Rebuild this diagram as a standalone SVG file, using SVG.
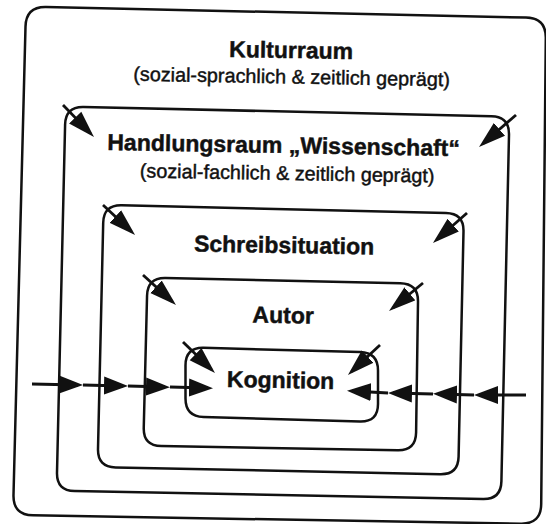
<svg xmlns="http://www.w3.org/2000/svg" width="546" height="524" viewBox="0 0 546 524">
<style>
.box{fill:none;stroke:#111;stroke-width:2.5;stroke-linejoin:round}
.arr{fill:none;stroke:#111;stroke-width:2.8}
.t{font-family:"Liberation Sans",Arial,Helvetica,sans-serif;fill:#111;stroke:#111;stroke-width:0.45;text-anchor:middle}
.h{font-weight:bold;font-size:23px}
.s{font-size:19.8px}
</style>
<defs>
<marker id="ad" markerUnits="userSpaceOnUse" markerWidth="27" markerHeight="18" viewBox="0 0 27 18" refX="22" refY="9" orient="auto">
<path d="M0,0.5 L27,9 L0,17.5 Z" fill="#111"/>
</marker>
<marker id="ah" markerUnits="userSpaceOnUse" markerWidth="24" markerHeight="19" viewBox="0 0 24 19" refX="19" refY="9.5" orient="auto">
<path d="M0,0.5 L24,9.5 L0,18.5 Z" fill="#111"/>
</marker>
</defs>
<rect width="546" height="524" fill="#fff"/>

<g id="kulturraum">
<path class="box" d="M46,7.04 L526,17.56 Q546,18 545.8,38 L541.2,504 Q541,524 521,523.66 L33,515.34 Q13,515 13.5,495 L25.5,26.6 Q26,6.6 46,7.04 Z"/>
<text class="t h" x="291" y="58" transform="rotate(1 291 58)">Kulturraum</text>
<text class="t s" x="291.5" y="83.5" transform="rotate(1 291.5 83.5)">(sozial-sprachlich &amp; zeitlich geprägt)</text>
</g>

<g id="handlungsraum">
<path class="box" d="M83.5,106.9 L491.4,116.3 Q509.4,116.7 509,134.7 L501.4,481.4 Q501,499.4 483,499.05 L74.6,491.05 Q56.6,490.7 57,472.7 L65.1,124.5 Q65.5,106.5 83.5,106.9 Z"/>
<text class="t h" x="283.5" y="153" transform="rotate(1 283.5 153)">Handlungsraum „Wissenschaft“</text>
<text class="t s" x="287" y="180" transform="rotate(1 287 180)">(sozial-fachlich &amp; zeitlich geprägt)</text>
</g>

<g id="schreibsituation">
<path class="box" d="M121.6,205.23 L445.9,212.97 Q463.9,213.4 463.5,231.4 L458.6,456.6 Q458.2,474.6 440.2,474.2 L115.6,467.4 Q97.6,467 98,449 L103.2,222.8 Q103.6,204.8 121.6,205.23 Z"/>
<text class="t h" x="284" y="253" transform="rotate(1 284 253)">Schreibsituation</text>
</g>

<g id="autor">
<path class="box" d="M165.5,278.1 L400.3,283.3 Q418.3,283.7 418,301.7 L416.1,432.5 Q415.8,450.5 397.8,450.2 L161.3,446.1 Q143.3,445.8 143.75,427.8 L147.05,295.7 Q147.5,277.7 165.5,278.1 Z"/>
<text class="t h" x="283" y="323" transform="rotate(1 283 323)">Autor</text>
</g>

<g id="kognition">
<path class="box" d="M203.5,347.87 L360,351.93 Q378,352.4 378,370.4 L378,404 Q378,422 360,421.5 L203.5,417.1 Q185.5,416.6 185.5,398.6 L185.5,365.4 Q185.5,347.4 203.5,347.87 Z"/>
<text class="t h" x="280.5" y="388" transform="rotate(1 280.5 388)">Kognition</text>
</g>

<g id="connectors">
<line class="arr" x1="63" y1="105" x2="90.5" y2="133.4" marker-end="url(#ad)"/>
<line class="arr" x1="516" y1="115" x2="482.8" y2="143.7" marker-end="url(#ad)"/>
<line class="arr" x1="103" y1="205" x2="131.4" y2="231.6" marker-end="url(#ad)"/>
<line class="arr" x1="467" y1="213" x2="436.7" y2="239.7" marker-end="url(#ad)"/>
<line class="arr" x1="143" y1="275" x2="172.3" y2="301.6" marker-end="url(#ad)"/>
<line class="arr" x1="423" y1="283" x2="392.9" y2="307.8" marker-end="url(#ad)"/>
<line class="arr" x1="183" y1="342" x2="211.4" y2="369.5" marker-end="url(#ad)"/>
<line class="arr" x1="380" y1="345" x2="351.6" y2="371.6" marker-end="url(#ad)"/>

<line class="arr" x1="32" y1="384" x2="78" y2="385" marker-end="url(#ah)"/>
<line class="arr" x1="83" y1="385" x2="123" y2="386" marker-end="url(#ah)"/>
<line class="arr" x1="128" y1="386" x2="165" y2="387" marker-end="url(#ah)"/>
<line class="arr" x1="170" y1="387" x2="208" y2="388" marker-end="url(#ah)"/>

<line class="arr" x1="526" y1="395" x2="479" y2="395" marker-end="url(#ah)"/>
<line class="arr" x1="474" y1="395" x2="438" y2="394" marker-end="url(#ah)"/>
<line class="arr" x1="433" y1="394" x2="393" y2="393" marker-end="url(#ah)"/>
<line class="arr" x1="388" y1="393" x2="352" y2="391" marker-end="url(#ah)"/>
</g>
</svg>
